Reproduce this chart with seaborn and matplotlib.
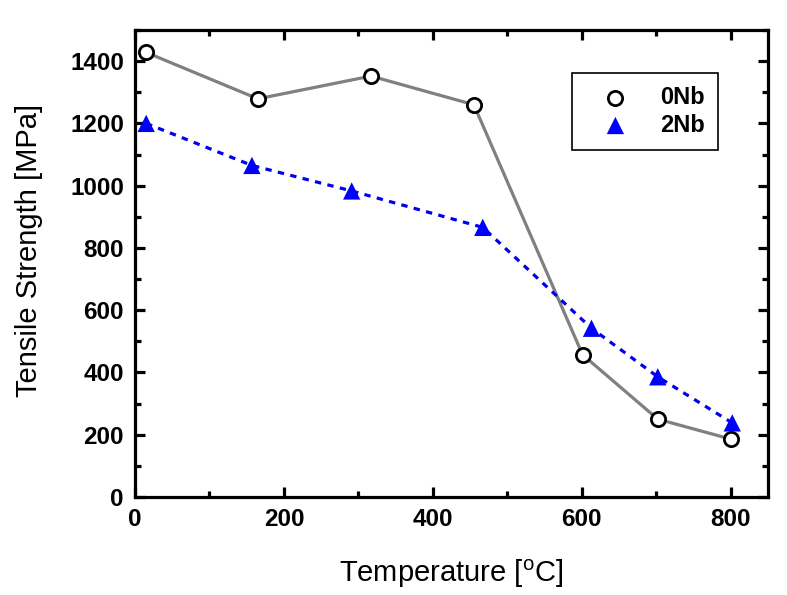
import matplotlib
matplotlib.use("Agg")
import matplotlib.pyplot as plt
import seaborn as sns
import pandas as pd
from matplotlib.ticker import MultipleLocator

temp_0nb = [15, 165, 317, 455, 601, 702, 800]
ts_0nb = [1428, 1279, 1352, 1260, 457, 250, 186]
temp_2nb = [15, 157, 291, 467, 613, 702, 802]
ts_2nb = [1200, 1065, 983, 866, 542, 386, 238]
series_names = ["0Nb", "2Nb"]

sns.set_theme(style="ticks")
plt.rcParams['font.family'] = ['Liberation Sans', 'DejaVu Sans']
plt.rcParams['text.color'] = 'black'
plt.rcParams['axes.labelcolor'] = 'black'
plt.rcParams['xtick.color'] = 'black'
plt.rcParams['ytick.color'] = 'black'
plt.rcParams['mathtext.fontset'] = 'custom'
plt.rcParams['mathtext.rm'] = 'Liberation Sans'

df0 = pd.DataFrame({"T": temp_0nb, "S": ts_0nb})
df2 = pd.DataFrame({"T": temp_2nb, "S": ts_2nb})

fig = plt.figure(figsize=(7.87, 5.95), dpi=100)
ax = fig.add_axes([135/787, 1-497/595, (768-135)/787, (497-30)/595])

sns.lineplot(data=df0, x="T", y="S", ax=ax, color="#808080", lw=2.3, legend=False)
sns.lineplot(data=df2, x="T", y="S", ax=ax, color="#0000ee", lw=2.3, legend=False,
             linestyle=(0, (2, 2)))
sns.scatterplot(data=df0, x="T", y="S", ax=ax, marker="o", s=105, facecolor="white",
                edgecolor="black", linewidth=2, label=series_names[0], zorder=5)
sns.scatterplot(data=df2, x="T", y="S", ax=ax, marker="^", s=155, color="#0000ff",
                edgecolor="none", label=series_names[1], zorder=5)

ax.set_xlim(0, 850)
ax.set_ylim(0, 1500)
ax.xaxis.set_major_locator(MultipleLocator(200))
ax.xaxis.set_minor_locator(MultipleLocator(100))
ax.yaxis.set_minor_locator(MultipleLocator(100))
ax.set_yticks([0, 200, 400, 600, 800, 1000, 1200, 1400])

for sp in ax.spines.values():
    sp.set_visible(True)
    sp.set_linewidth(2.3)
    sp.set_color("black")
ax.tick_params(which="both", direction="in", top=True, right=True, width=2.3, color="black",
               labelcolor="black")
ax.tick_params(which="major", length=7, labelsize=17.5, pad=8)
ax.tick_params(which="minor", length=4)
for lab in ax.get_xticklabels() + ax.get_yticklabels():
    lab.set_fontweight("bold")

ax.set_xlabel(r"Temperature [$^{\mathrm{o}}$C]", fontsize=21, labelpad=19, color="black")
ax.set_ylabel("Tensile Strength [MPa]", fontsize=21, color="black")
ax.yaxis.set_label_coords((43-135)/633, (497-250)/467)

leg = ax.legend(loc="upper right", bbox_to_anchor=((718-135)/(768-135), (497-73)/(497-30)),
                borderaxespad=0, frameon=True, fancybox=False, edgecolor="black", framealpha=1,
                prop={"weight": "bold", "size": 17}, handletextpad=0.6, labelspacing=0.2,
                borderpad=0.55, handlelength=2.6, markerscale=1.0)
leg.get_frame().set_linewidth(1.2)
for t in leg.get_texts():
    t.set_color("black")

fig.savefig("out.png", dpi=100)
